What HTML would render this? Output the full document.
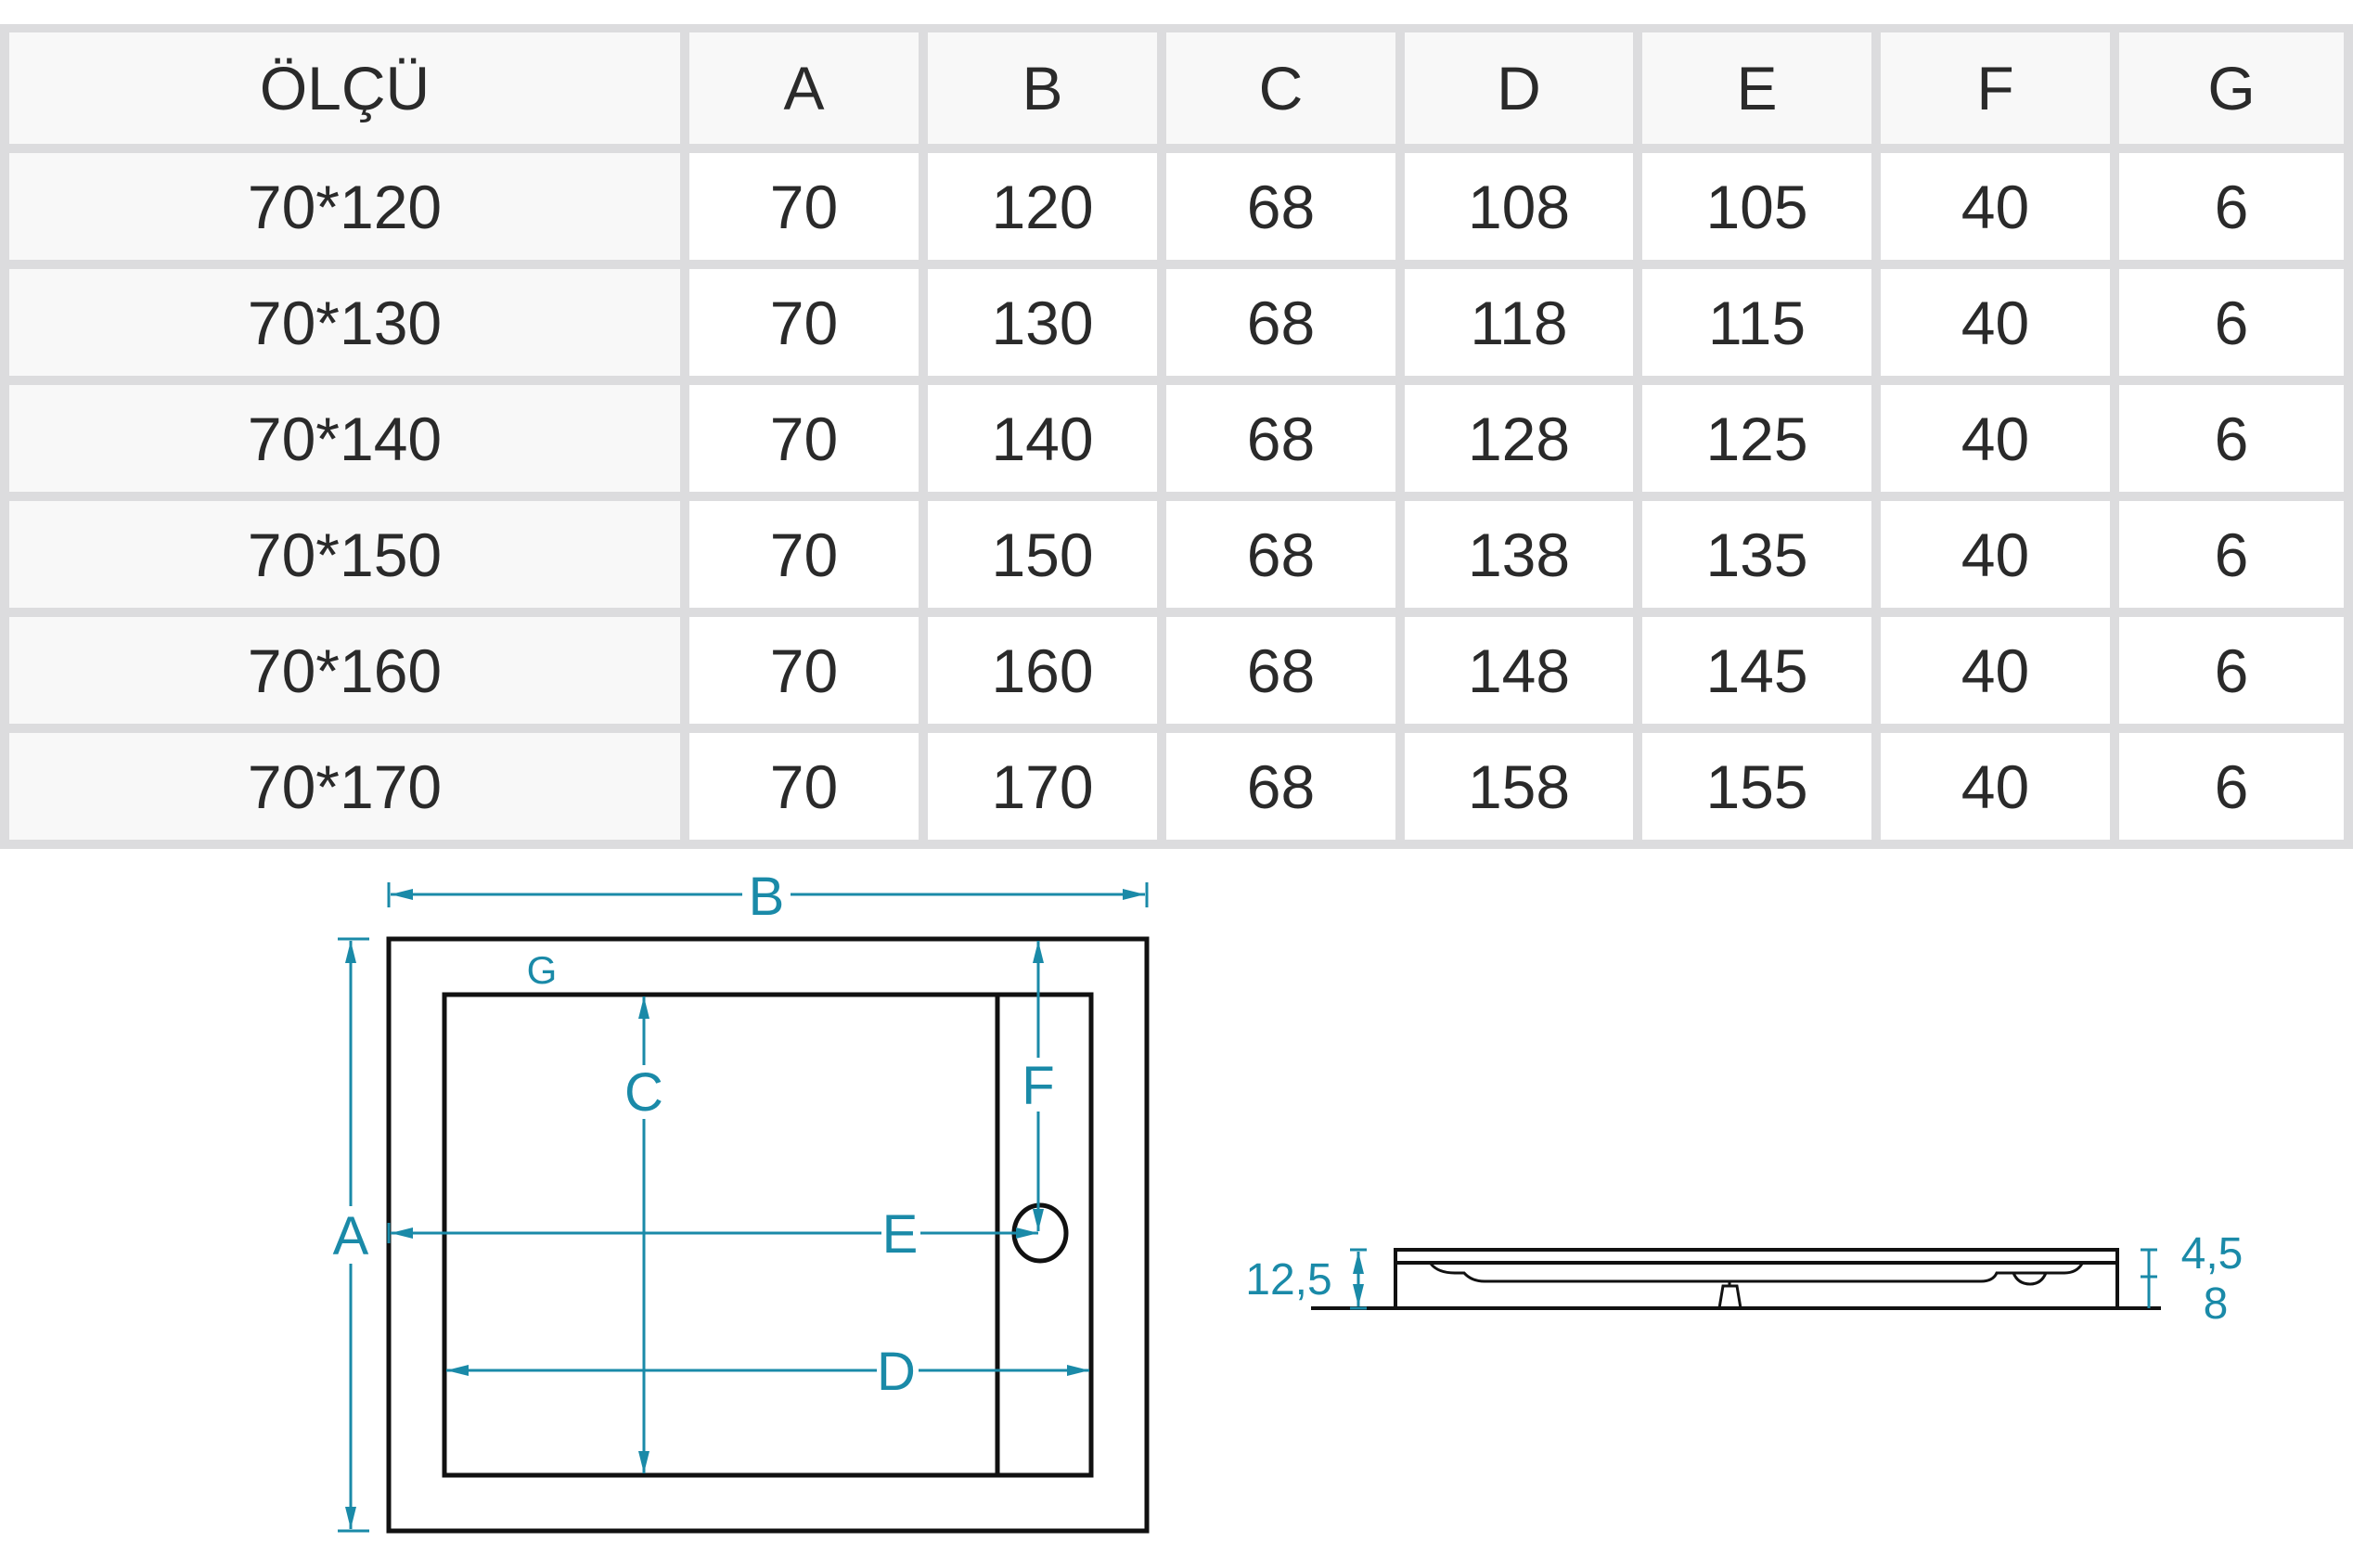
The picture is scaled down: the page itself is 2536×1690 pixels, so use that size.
<!DOCTYPE html>
<html><head><meta charset="utf-8"><style>
html,body{margin:0;padding:0;background:#fff;}
body{width:2536px;height:1690px;position:relative;overflow:hidden;font-family:"Liberation Sans",sans-serif;}
.tbl{position:absolute;left:0;top:26px;width:2536px;height:889px;box-sizing:border-box;background:#dcdcde;padding:9px 10px;display:grid;grid-template-columns:723px 247px 247px 247px 246px 247px 247px 242px;grid-template-rows:120px repeat(6,115px);column-gap:10px;row-gap:10px;}
.tbl div{background:#fff;display:flex;align-items:center;justify-content:center;font-size:66px;color:#2a2a2a;}
.tbl .g{background:#f8f8f8;}
svg{position:absolute;left:0;top:0;}
</style></head><body>
<div class="tbl">
<div class="g">ÖLÇÜ</div><div class="g">A</div><div class="g">B</div><div class="g">C</div><div class="g">D</div><div class="g">E</div><div class="g">F</div><div class="g">G</div>
<div class="g">70*120</div><div>70</div><div>120</div><div>68</div><div>108</div><div>105</div><div>40</div><div>6</div>
<div class="g">70*130</div><div>70</div><div>130</div><div>68</div><div>118</div><div>115</div><div>40</div><div>6</div>
<div class="g">70*140</div><div>70</div><div>140</div><div>68</div><div>128</div><div>125</div><div>40</div><div>6</div>
<div class="g">70*150</div><div>70</div><div>150</div><div>68</div><div>138</div><div>135</div><div>40</div><div>6</div>
<div class="g">70*160</div><div>70</div><div>160</div><div>68</div><div>148</div><div>145</div><div>40</div><div>6</div>
<div class="g">70*170</div><div>70</div><div>170</div><div>68</div><div>158</div><div>155</div><div>40</div><div>6</div>
</div>
<svg width="2536" height="1690" viewBox="0 0 2536 1690" xmlns="http://www.w3.org/2000/svg">
<defs>
<marker id="ar" viewBox="0 0 24 12" refX="24" refY="6" markerWidth="24" markerHeight="12" markerUnits="userSpaceOnUse" orient="auto-start-reverse"><path d="M0,0 L24,6 L0,12 z" fill="#1a8aa8"/></marker>
</defs>
<g fill="none" stroke="#111" stroke-width="5">
<rect x="419" y="1012" width="817" height="638"/>
<rect x="479" y="1072" width="697" height="518"/>
<line x1="1075" y1="1072" x2="1075" y2="1590"/>
<ellipse cx="1121" cy="1329" rx="28" ry="30"/>
</g>
<g stroke="#1a8aa8" stroke-width="3" fill="none">
<line x1="419" y1="951" x2="419" y2="978"/><line x1="1236" y1="951" x2="1236" y2="978"/>
<line x1="421" y1="964" x2="800" y2="964" marker-start="url(#ar)"/>
<line x1="852" y1="964" x2="1234" y2="964" marker-end="url(#ar)"/>
<line x1="364" y1="1012" x2="398" y2="1012"/><line x1="364" y1="1650" x2="398" y2="1650"/>
<line x1="378" y1="1014" x2="378" y2="1300" marker-start="url(#ar)"/>
<line x1="378" y1="1362" x2="378" y2="1648" marker-end="url(#ar)"/>
<line x1="694" y1="1074" x2="694" y2="1148" marker-start="url(#ar)"/>
<line x1="694" y1="1206" x2="694" y2="1588" marker-end="url(#ar)"/>
<line x1="1119" y1="1014" x2="1119" y2="1140" marker-start="url(#ar)"/>
<line x1="1119" y1="1198" x2="1119" y2="1327" marker-end="url(#ar)"/>
<line x1="419" y1="1318" x2="419" y2="1340"/>
<line x1="421" y1="1329" x2="950" y2="1329" marker-start="url(#ar)"/>
<line x1="992" y1="1329" x2="1119" y2="1329" marker-end="url(#ar)"/>
<line x1="481" y1="1477" x2="945" y2="1477" marker-start="url(#ar)"/>
<line x1="990" y1="1477" x2="1174" y2="1477" marker-end="url(#ar)"/>
</g>
<g fill="#1a8aa8" font-family="Liberation Sans, sans-serif" font-size="58" text-anchor="middle">
<text x="826" y="986">B</text>
<text x="378" y="1352">A</text>
<text x="584" y="1060" font-size="42">G</text>
<text x="694" y="1197">C</text>
<text x="1119" y="1190">F</text>
<text x="970" y="1350">E</text>
<text x="966" y="1498">D</text>
</g>
<g fill="none" stroke="#111" stroke-width="4">
<line x1="1413" y1="1410" x2="2329" y2="1410"/>
<path d="M1504,1410 V1347 H2282 V1410"/>
<line x1="1504" y1="1361" x2="2282" y2="1361"/>
<path d="M1542,1362 Q1550,1372 1568,1372 H1578 Q1586,1381 1600,1381 H2135 Q2148,1381 2152,1372 H2225 Q2238,1372 2244,1362" stroke-width="3"/>
<path d="M2170,1372 Q2175,1384 2188,1384 Q2200,1384 2205,1372" stroke-width="3"/>
<path d="M1853,1410 L1857,1386 H1872 L1876,1410" stroke-width="3"/>
<line x1="1864" y1="1381" x2="1864" y2="1386" stroke-width="3"/>
</g>
<g stroke="#1a8aa8" stroke-width="3" fill="none">
<line x1="1455" y1="1347" x2="1473" y2="1347"/>
<line x1="1464" y1="1349" x2="1464" y2="1408" marker-start="url(#ar)" marker-end="url(#ar)"/>
<line x1="1455" y1="1410" x2="1473" y2="1410"/>
<line x1="2307" y1="1347" x2="2325" y2="1347"/>
<line x1="2307" y1="1376" x2="2325" y2="1376"/>
<line x1="2316" y1="1347" x2="2316" y2="1410"/>
</g>
<g fill="#1a8aa8" font-family="Liberation Sans, sans-serif" font-size="48" text-anchor="middle">
<text x="1389" y="1395">12,5</text>
<text x="2384" y="1367">4,5</text>
<text x="2388" y="1421">8</text>
</g>
</svg>
</body></html>
